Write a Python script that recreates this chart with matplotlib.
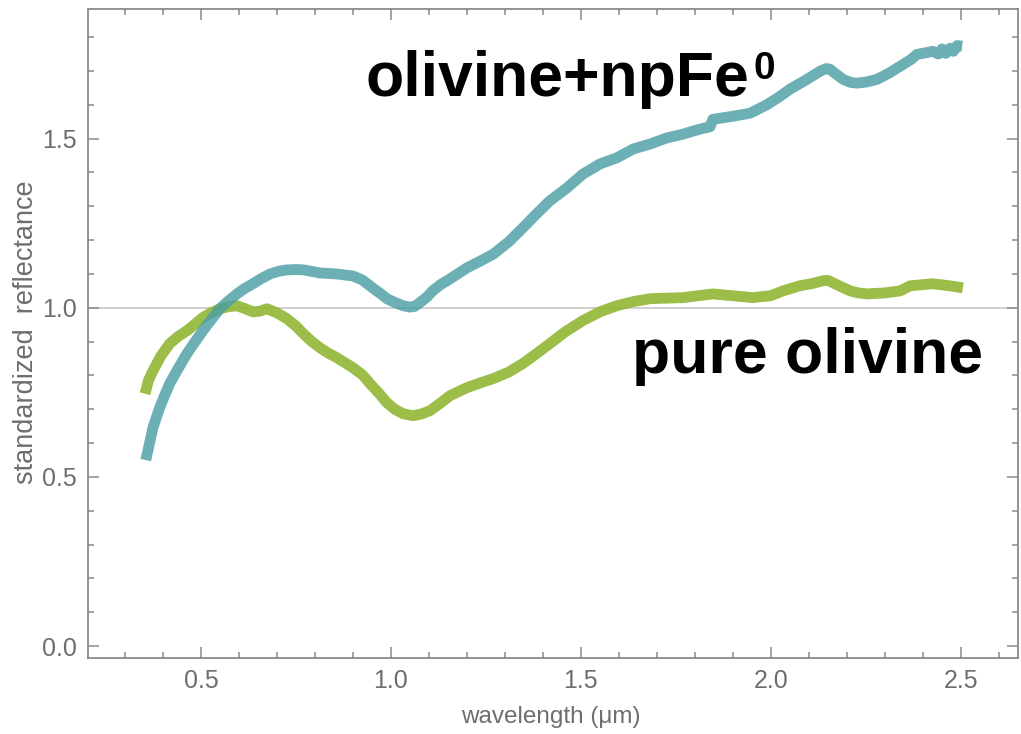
import numpy as np
import matplotlib
matplotlib.use('Agg')
import matplotlib.pyplot as plt

plt.rcParams['font.family'] = ['Liberation Sans', 'DejaVu Sans']

# olivine + npFe0 (teal)
wl_np = [0.355, 0.36, 0.374, 0.39, 0.405, 0.418, 0.44, 0.463, 0.485, 0.505, 0.528, 0.55,
         0.572, 0.595, 0.615, 0.637, 0.66, 0.682, 0.705, 0.726, 0.75, 0.77, 0.79, 0.813,
         0.857, 0.9, 0.925, 0.945, 0.96, 0.975, 0.989, 1.01, 1.032, 1.05, 1.062, 1.076,
         1.095, 1.11, 1.13, 1.155, 1.2, 1.235, 1.27, 1.31, 1.347, 1.38, 1.418, 1.463,
         1.505, 1.55, 1.594, 1.637, 1.682, 1.726, 1.768, 1.813, 1.84, 1.847, 1.9, 1.945,
         1.989, 2.02, 2.05, 2.09, 2.129, 2.145, 2.155, 2.172, 2.19, 2.21, 2.226, 2.25,
         2.279, 2.31, 2.34, 2.37, 2.384, 2.40, 2.426, 2.44, 2.45, 2.46, 2.471, 2.48,
         2.49, 2.503]
r_np = [0.55, 0.575, 0.646, 0.70, 0.742, 0.776, 0.82, 0.864, 0.9, 0.932, 0.966, 0.997,
        1.02, 1.041, 1.057, 1.071, 1.087, 1.100, 1.108, 1.112, 1.113, 1.112, 1.108, 1.103,
        1.100, 1.094, 1.082, 1.065, 1.052, 1.04, 1.027, 1.016, 1.006, 1.002, 1.004, 1.015,
        1.032, 1.05, 1.068, 1.085, 1.118, 1.138, 1.159, 1.195, 1.236, 1.274, 1.316, 1.354,
        1.395, 1.425, 1.443, 1.469, 1.484, 1.502, 1.513, 1.528, 1.535, 1.557, 1.566, 1.575,
        1.60, 1.622, 1.646, 1.672, 1.699, 1.707, 1.705, 1.69, 1.675, 1.666, 1.664, 1.667,
        1.675, 1.693, 1.714, 1.735, 1.749, 1.752, 1.758, 1.75, 1.765, 1.752, 1.767, 1.758,
        1.775, 1.773]

# pure olivine (green)
wl_ol = [0.353, 0.362, 0.374, 0.395, 0.418, 0.44, 0.463, 0.485, 0.505, 0.528, 0.55,
         0.572, 0.595, 0.615, 0.637, 0.655, 0.674, 0.7, 0.726, 0.75, 0.77, 0.79, 0.813,
         0.835, 0.857, 0.9, 0.925, 0.945, 0.968, 0.989, 1.01, 1.032, 1.058, 1.08, 1.103,
         1.13, 1.155, 1.2, 1.235, 1.27, 1.31, 1.347, 1.38, 1.418, 1.46, 1.505, 1.55, 1.594,
         1.637, 1.682, 1.768, 1.847, 1.953, 2.0, 2.032, 2.076, 2.11, 2.137, 2.15, 2.163,
         2.185, 2.208, 2.23, 2.253, 2.3, 2.34, 2.366, 2.426, 2.47, 2.505]
r_ol = [0.746, 0.785, 0.814, 0.858, 0.894, 0.915, 0.932, 0.952, 0.971, 0.986, 0.997,
        1.003, 1.006, 0.998, 0.988, 0.99, 0.997, 0.985, 0.968, 0.946, 0.923, 0.902, 0.882,
        0.866, 0.853, 0.823, 0.802, 0.776, 0.748, 0.72, 0.7, 0.687, 0.681, 0.686, 0.696,
        0.718, 0.740, 0.764, 0.778, 0.791, 0.81, 0.835, 0.862, 0.894, 0.93, 0.962, 0.988,
        1.006, 1.018, 1.027, 1.03, 1.041, 1.03, 1.036, 1.05, 1.065, 1.072, 1.08, 1.081,
        1.074, 1.062, 1.05, 1.044, 1.041, 1.044, 1.05, 1.065, 1.071, 1.065, 1.059]

fig = plt.figure(figsize=(10.21, 7.34), dpi=100)
ax = fig.add_axes([88/1021, 1-658/734, 930/1021, 649/734])

ax.axhline(1.0, color='#c8c8c8', lw=1.2, zorder=1)
ax.plot(wl_ol, r_ol, color='#8fb52e', lw=7.8, alpha=0.88, solid_capstyle='butt',
        solid_joinstyle='round', zorder=2)
ax.plot(wl_np, r_np, color='#4c9ea5', lw=7.8, alpha=0.82, solid_capstyle='butt',
        solid_joinstyle='round', zorder=3)

ax.set_xlim(0.203, 2.65)
ax.set_ylim(-0.035, 1.883)
ax.set_xticks([0.5, 1.0, 1.5, 2.0, 2.5])
ax.set_xticks(np.arange(0.3, 2.65, 0.1), minor=True)
ax.set_yticks([0.0, 0.5, 1.0, 1.5])
ax.set_yticks(np.arange(0.0, 1.88, 0.1), minor=True)
ax.set_xticklabels(['0.5', '1.0', '1.5', '2.0', '2.5'])
ax.set_yticklabels(['0.0', '0.5', '1.0', '1.5'])

grey = '#8a8a8a'
for s in ax.spines.values():
    s.set_color(grey)
    s.set_linewidth(1.3)
ax.tick_params(which='both', direction='in', top=True, right=True, color=grey, width=1.1,
               labelsize=18, labelcolor='#6e6e6e')
ax.tick_params(which='major', length=8, pad=8)
ax.tick_params(which='minor', length=4)
ax.tick_params(top=True, right=True, labeltop=False, labelright=False)

ax.text(0.932, 1.625, 'olivine+npFe', fontsize=45, fontweight='bold',
        ha='left', va='baseline')
ax.text(1.955, 1.676, '0', fontsize=28, fontweight='bold', ha='left', va='baseline')
ax.text(1.634, 0.808, 'pure olivine', fontsize=45, fontweight='bold',
        ha='left', va='baseline')

fig.text(551/1021, 1-717/734, 'wavelength (\u03bcm)', fontsize=17.5, color='#6e6e6e',
         ha='center', va='center')
fig.text(26/1021, 1-332/734, 'standardized  reflectance', fontsize=19.5, color='#6e6e6e',
         rotation=90, ha='center', va='center')

fig.savefig('out.png', dpi=100)
